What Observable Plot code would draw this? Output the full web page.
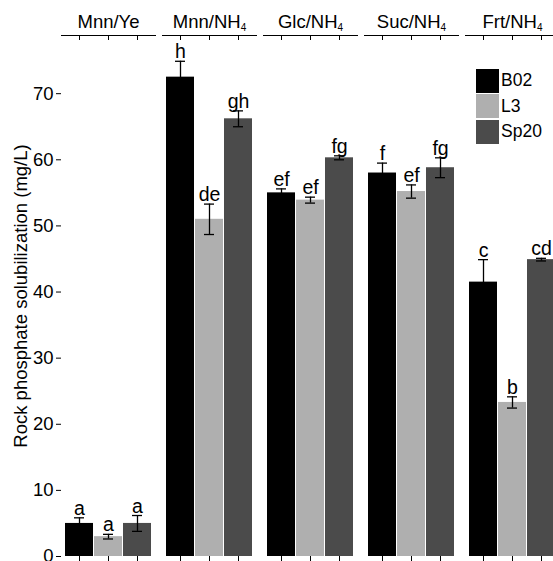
<!DOCTYPE html>
<html><head><meta charset="utf-8">
<script src="https://cdn.jsdelivr.net/npm/d3@7"></script>
<script src="https://cdn.jsdelivr.net/npm/@observablehq/plot@0.6"></script>
<style>
html,body{margin:0;padding:0;background:#fff;overflow:hidden;}
#wrap{position:relative;width:553px;height:561px;overflow:hidden;}
#wrap svg{max-width:none !important;display:block;}
#legend{position:absolute;left:476px;top:68px;font-family:"Liberation Sans",Arial,sans-serif;font-size:17.5px;color:#000;}
.item{display:flex;align-items:center;height:25.5px;}
.sw{width:23px;height:24px;margin-right:2px;}
</style></head><body><div id="wrap"><div id="legend"></div></div>
<script>
const media = ["Mnn/Ye","Mnn/NH4","Glc/NH4","Suc/NH4","Frt/NH4"];
const strains = ["B02","L3","Sp20"];
const colors = ["#000000","#afafaf","#4b4b4b"];
const B02 = [5.0, 72.5, 55.0, 58.0, 41.5];
const L3 = [3.0, 51.0, 53.9, 55.2, 23.3];
const Sp20 = [5.0, 66.2, 60.3, 58.8, 44.9];
const B02err = [0.85, 2.4, 0.6, 1.5, 3.4];
const L3err = [0.35, 2.3, 0.45, 1.0, 0.85];
const Sp20err = [1.2, 1.2, 0.3, 1.5, 0.2];
const B02sig = ["a","h","ef","f","c"];
const L3sig = ["a","de","ef","ef","b"];
const Sp20sig = ["a","gh","fg","fg","cd"];
const yTicks = [0,10,20,30,40,50,60,70];
const yLabel = "Rock phosphate solubilization (mg/L)";

const series = {B02: [B02, B02err, B02sig], L3: [L3, L3err, L3sig], Sp20: [Sp20, Sp20err, Sp20sig]};
const rows = [];
media.forEach((m, i) => strains.forEach(s => {
  const [v, e, g] = series[s];
  rows.push({medium: m, strain: s, value: v[i], err: e[i], sig: g[i]});
}));

const plot = Plot.plot({
  width: 559, height: 561,
  marginLeft: 61, marginRight: 0, marginTop: 35, marginBottom: 5,
  style: {fontFamily: "Liberation Sans, Arial, sans-serif", fontSize: "17px", color: "#000", background: "#fff"},
  fx: {domain: media, paddingInner: 0.07, paddingOuter: 0, label: null},
  x: {domain: strains, paddingInner: 0.04, paddingOuter: 0.12, label: null},
  y: {domain: [0, 78.8], label: yLabel},
  color: {domain: strains, range: colors},
  marks: [
    Plot.barY(rows, {fx: "medium", x: "strain", y: "value", fill: "strain"}),
    Plot.ruleX(rows, {fx: "medium", x: "strain", y1: d => d.value - d.err, y2: d => d.value + d.err, stroke: "#000", strokeWidth: 1.3}),
    Plot.tickY(rows, {fx: "medium", x: "strain", y: d => d.value + d.err, insetLeft: 9, insetRight: 9, stroke: "#000", strokeWidth: 1.3}),
    Plot.tickY(rows, {fx: "medium", x: "strain", y: d => d.value - d.err, insetLeft: 9, insetRight: 9, stroke: "#000", strokeWidth: 1.3}),
    Plot.text(rows, {fx: "medium", x: "strain", y: d => d.value + d.err, text: "sig", lineAnchor: "bottom", dy: -3, fontSize: 19.5}),
    Plot.axisY({ticks: yTicks, tickSize: 5, tickPadding: 3, line: true, label: yLabel, labelAnchor: "center", labelArrow: "none", labelOffset: 48, fontSize: 17.5}),
    Plot.axisX({anchor: "bottom", tickSize: 5, tickFormat: () => "", line: true}),
    Plot.frame({anchor: "top"}),
    Plot.axisX({anchor: "top", tickSize: 4, dy: 4, tickFormat: () => ""}),
    Plot.axisFx({anchor: "top", tickSize: 0, tickPadding: 8, fontSize: 18.5, label: null})
  ]
});

// y tick label and y label font sizes
plot.querySelectorAll("g[aria-label='y-axis tick label']").forEach(g => {
  g.setAttribute("font-size", "18.5");
  g.querySelectorAll("text").forEach(t => t.setAttribute("font-size", "18.5"));
});
plot.querySelectorAll("g[aria-label='y-axis label'] text").forEach(t => t.setAttribute("font-size", "18.5"));

// subscripts for NH4 in facet labels
plot.querySelectorAll("text, tspan").forEach(t => {
  const n = t.firstChild;
  if (t.childNodes.length === 1 && n.nodeType === 3 && /NH4$/.test(n.nodeValue)) {
    const base = n.nodeValue.slice(0, -1);
    t.textContent = base;
    const sub = document.createElementNS("http://www.w3.org/2000/svg", "tspan");
    sub.setAttribute("font-size", "10");
    sub.setAttribute("dy", "3");
    sub.textContent = "4";
    t.appendChild(sub);
  }
});

const wrap = document.getElementById("wrap");
wrap.insertBefore(plot, wrap.firstChild);

const legend = document.getElementById("legend");
strains.forEach((s, i) => {
  const it = document.createElement("div"); it.className = "item";
  const sw = document.createElement("div"); sw.className = "sw"; sw.style.background = colors[i];
  const lb = document.createElement("span"); lb.textContent = s;
  it.appendChild(sw); it.appendChild(lb); legend.appendChild(it);
});
</script></body></html>
